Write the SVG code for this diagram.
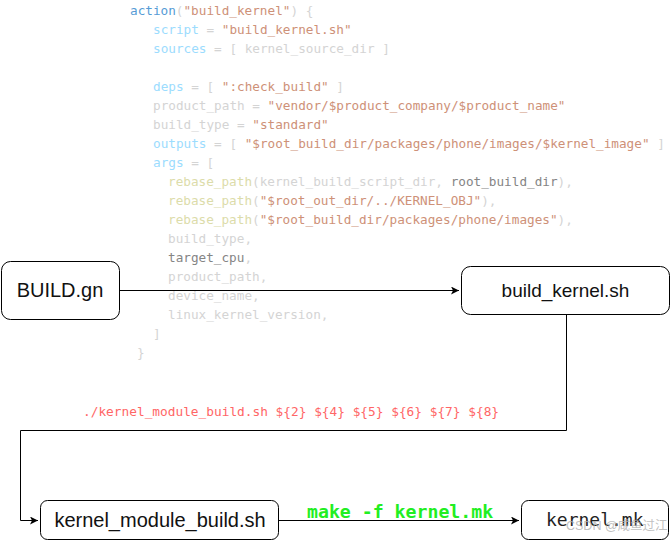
<svg xmlns="http://www.w3.org/2000/svg" width="671" height="541" viewBox="0 0 671 541">
<defs>
<style>
.code{font-family:"DejaVu Sans Mono","Liberation Mono",monospace;font-size:12.7px;fill:#d4d4d4}
.kw{fill:#569cd6}.pr{fill:#9cdcfe}.st{fill:#ce9178}.fn{fill:#dcdcaa}.dk{fill:#858585}
.box{fill:#fff;stroke:#000;stroke-width:1}
.lbl{font-family:"Liberation Sans",Arial,sans-serif;font-size:20px;fill:#111;text-anchor:middle}
.edge{fill:none;stroke:#000;stroke-width:1}
</style>
<marker id="arr" markerWidth="10" markerHeight="10" refX="8" refY="4" orient="auto" markerUnits="userSpaceOnUse">
<path d="M0,0 L8,4 L0,8 L2,4 z" fill="#000"/>
</marker>
</defs>
<rect width="671" height="541" fill="#fff"/>
<g id="code" class="code">
<text x="130" y="15"><tspan class="kw">action</tspan>(<tspan class="st">"build_kernel"</tspan>) {</text>
<text x="153" y="34"><tspan class="pr">script</tspan> = <tspan class="st">"build_kernel.sh"</tspan></text>
<text x="153" y="53"><tspan class="pr">sources</tspan> = [ kernel_source_dir ]</text>
<text x="153" y="91"><tspan class="pr">deps</tspan> = [ <tspan class="st">":check_build"</tspan> ]</text>
<text x="153" y="110">product_path = <tspan class="st">"vendor/$product_company/$product_name"</tspan></text>
<text x="153" y="129">build_type = <tspan class="st">"standard"</tspan></text>
<text x="153" y="148"><tspan class="pr">outputs</tspan> = [ <tspan class="st">"$root_build_dir/packages/phone/images/$kernel_image"</tspan> ]</text>
<text x="153" y="167"><tspan class="pr">args</tspan> = [</text>
<text x="168" y="186"><tspan class="fn">rebase_path</tspan>(kernel_build_script_dir, <tspan class="dk">root_build_dir</tspan>),</text>
<text x="168" y="205"><tspan class="fn">rebase_path</tspan>(<tspan class="st">"$root_out_dir/../KERNEL_OBJ"</tspan>),</text>
<text x="168" y="224"><tspan class="fn">rebase_path</tspan>(<tspan class="st">"$root_build_dir/packages/phone/images"</tspan>),</text>
<text x="168" y="243">build_type,</text>
<text x="168" y="262"><tspan class="dk">target_cpu</tspan>,</text>
<text x="168" y="281">product_path,</text>
<text x="168" y="300">device_name,</text>
<text x="168" y="319">linux_kernel_version,</text>
<text x="153" y="338">]</text>
<text x="137" y="357">}</text>
</g>
<g id="connectors">
<path class="edge" d="M120,290.5 H459" marker-end="url(#arr)"/>
<path class="edge" d="M566.5,315 V430.5 H20.5 V520.5 H38" marker-end="url(#arr)"/>
<path class="edge" d="M279,520.5 H519" marker-end="url(#arr)"/>
<text x="83" y="416" style="font-family:'DejaVu Sans Mono','Liberation Mono',monospace;font-size:12.8px;fill:#ff6666">./kernel_module_build.sh ${2} ${4} ${5} ${6} ${7} ${8}</text>
<text x="307" y="518" style="font-family:'DejaVu Sans Mono','Liberation Mono',monospace;font-size:18.2px;font-weight:bold;fill:#22ee22">make -f kernel.mk</text>
</g>
<g id="build_gn">
<rect class="box" x="1.5" y="261.5" width="118" height="58" rx="9"/>
<text class="lbl" x="60" y="297">BUILD.gn</text>
</g>
<g id="build_kernel_sh">
<rect class="box" x="461.5" y="266.5" width="208" height="48" rx="9"/>
<text class="lbl" x="565.5" y="297" style="font-size:19px">build_kernel.sh</text>
</g>
<g id="kernel_module_build_sh">
<rect class="box" x="40.5" y="500.5" width="238" height="39" rx="7"/>
<text class="lbl" x="160" y="527">kernel_module_build.sh</text>
</g>
<g id="kernel_mk">
<rect class="box" x="521.5" y="500.5" width="147" height="39" rx="7"/>
<text x="546" y="526" style="font-family:'DejaVu Sans Mono','Liberation Mono',monospace;font-size:18px;fill:#222">kernel.mk</text>
</g>
<text x="566" y="530" style="font-family:'Liberation Sans','Noto Sans CJK SC',sans-serif;font-size:12.5px;fill:#b0b0b0;fill-opacity:0.8">CSDN @咸鱼过江</text>
</svg>
